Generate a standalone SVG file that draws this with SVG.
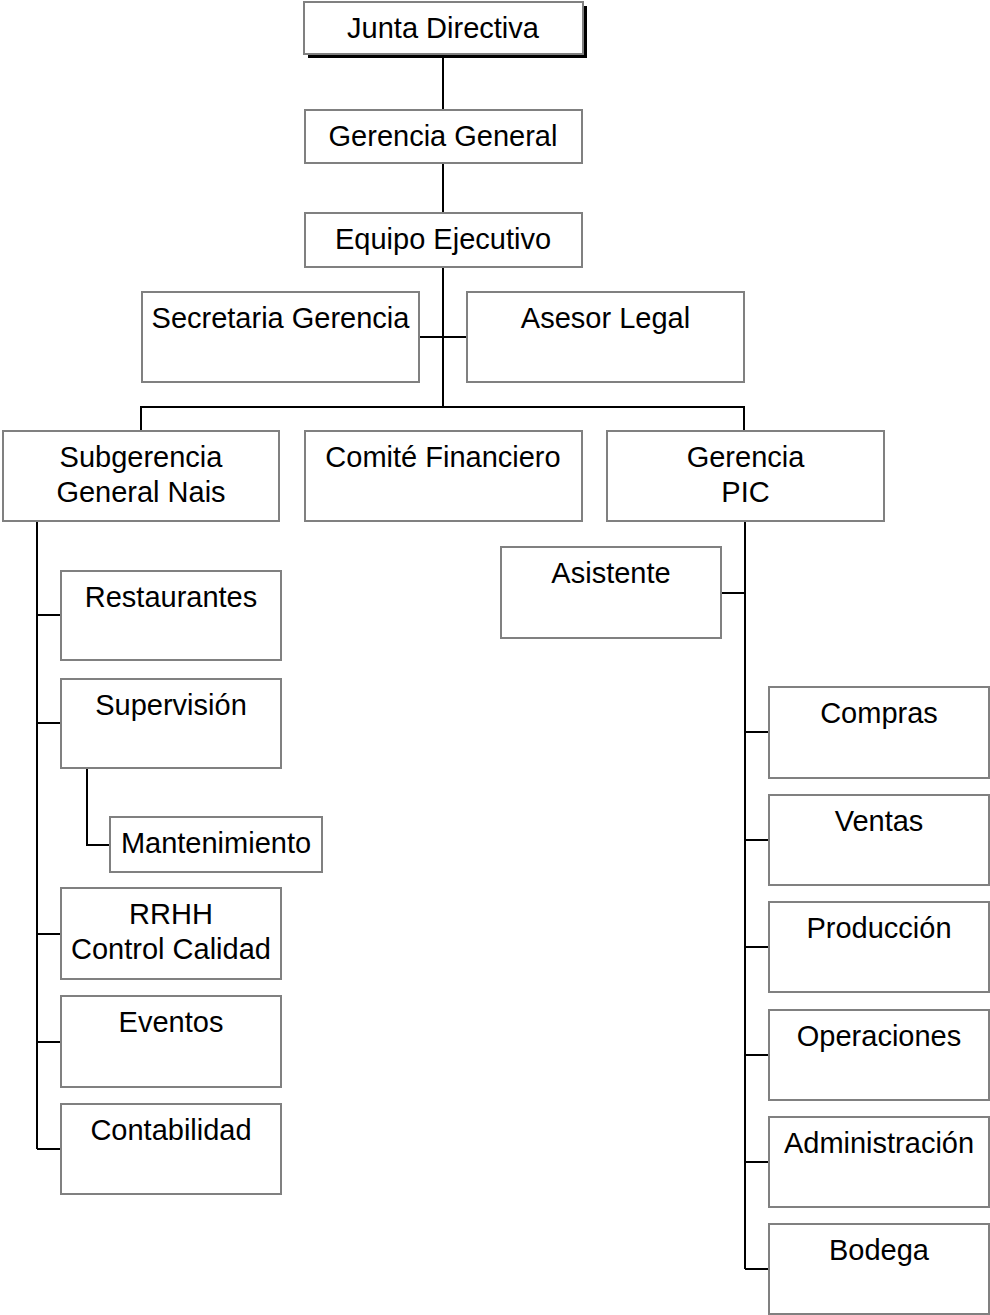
<svg xmlns="http://www.w3.org/2000/svg" width="990" height="1315" viewBox="0 0 990 1315">
<style>
.b{fill:#fff;stroke:#808080;stroke-width:2}
.t{font-family:"Liberation Sans",Arial,sans-serif;font-size:29px;fill:#000;text-anchor:middle}
.c{fill:none;stroke:#000;stroke-width:2}
</style>
<rect width="990" height="1315" fill="#fff"/>
<g id="connectors">
<path class="c" d="M443 56V407M419 337H467M141 430V407H744V430"/>
<path class="c" d="M37 521V1149M37 615H61M37 723H61M37 934H61M37 1042H61M37 1149H61"/>
<path class="c" d="M87 768V845H110"/>
<path class="c" d="M745 521V1269M721 593H745M745 732H769M745 840H769M745 947H769M745 1055H769M745 1162H769M745 1269H769"/>
</g>
<g id="junta"><rect x="308" y="6" width="279" height="52" fill="#000"/><rect class="b" x="304" y="2" width="279" height="52"/><text class="t" x="443" y="38">Junta Directiva</text></g>
<g id="gerencia-general"><rect class="b" x="305" y="110" width="277" height="53"/><text class="t" x="443" y="146">Gerencia General</text></g>
<g id="equipo"><rect class="b" x="305" y="213" width="277" height="54"/><text class="t" x="443" y="249">Equipo Ejecutivo</text></g>
<g id="secretaria"><rect class="b" x="142" y="292" width="277" height="90"/><text class="t" x="280.5" y="328">Secretaria Gerencia</text></g>
<g id="asesor"><rect class="b" x="467" y="292" width="277" height="90"/><text class="t" x="605.5" y="328">Asesor Legal</text></g>
<g id="subgerencia"><rect class="b" x="3" y="431" width="276" height="90"/><text class="t" x="141" y="467">Subgerencia</text><text class="t" x="141" y="502">General Nais</text></g>
<g id="comite"><rect class="b" x="305" y="431" width="277" height="90"/><text class="t" x="443" y="467">Comité Financiero</text></g>
<g id="pic"><rect class="b" x="607" y="431" width="277" height="90"/><text class="t" x="745.5" y="467">Gerencia</text><text class="t" x="745.5" y="502">PIC</text></g>
<g id="asistente"><rect class="b" x="501" y="547" width="220" height="91"/><text class="t" x="611" y="583">Asistente</text></g>
<g id="restaurantes"><rect class="b" x="61" y="571" width="220" height="89"/><text class="t" x="171" y="607">Restaurantes</text></g>
<g id="supervision"><rect class="b" x="61" y="679" width="220" height="89"/><text class="t" x="171" y="715">Supervisión</text></g>
<g id="mantenimiento"><rect class="b" x="110" y="817" width="212" height="55"/><text class="t" x="216" y="853">Mantenimiento</text></g>
<g id="rrhh"><rect class="b" x="61" y="888" width="220" height="91"/><text class="t" x="171" y="924">RRHH</text><text class="t" x="171" y="959">Control Calidad</text></g>
<g id="eventos"><rect class="b" x="61" y="996" width="220" height="91"/><text class="t" x="171" y="1032">Eventos</text></g>
<g id="contabilidad"><rect class="b" x="61" y="1104" width="220" height="90"/><text class="t" x="171" y="1140">Contabilidad</text></g>
<g id="compras"><rect class="b" x="769" y="687" width="220" height="91"/><text class="t" x="879" y="723">Compras</text></g>
<g id="ventas"><rect class="b" x="769" y="795" width="220" height="90"/><text class="t" x="879" y="831">Ventas</text></g>
<g id="produccion"><rect class="b" x="769" y="902" width="220" height="90"/><text class="t" x="879" y="938">Producción</text></g>
<g id="operaciones"><rect class="b" x="769" y="1010" width="220" height="90"/><text class="t" x="879" y="1046">Operaciones</text></g>
<g id="administracion"><rect class="b" x="769" y="1117" width="220" height="90"/><text class="t" x="879" y="1153">Administración</text></g>
<g id="bodega"><rect class="b" x="769" y="1224" width="220" height="90"/><text class="t" x="879" y="1260">Bodega</text></g>
</svg>
